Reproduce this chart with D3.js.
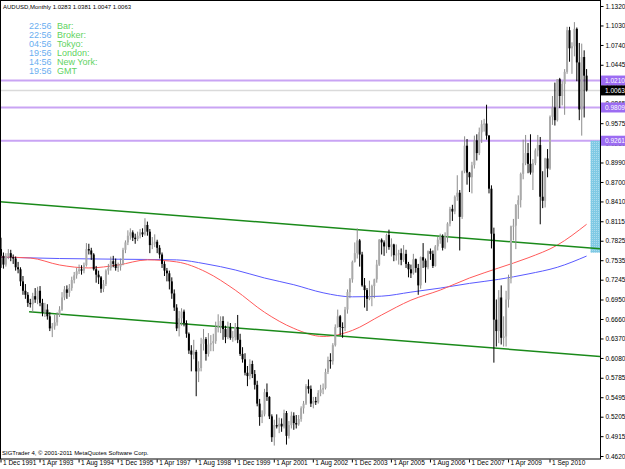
<!DOCTYPE html>
<html>
<head>
<script src="https://cdn.jsdelivr.net/npm/d3@7"></script>
<style>
    body { margin: 0; background: #fff; }
    svg text { font-family: "Liberation Sans", Arial, sans-serif; }
</style>
</head>
<body>
<svg width="625" height="469"></svg>
<script>
// monthly AUDUSD bars [open, high, low, close], one array per year
var y1991 = [[0.7700,0.7870,0.7420,0.7600]];
var y1992 = [[0.7600,0.7650,0.7410,0.7470],[0.7470,0.7640,0.7440,0.7600],[0.7600,0.7700,0.7550,0.7640],[0.7640,0.7690,0.7520,0.7580],
             [0.7580,0.7620,0.7480,0.7560],[0.7560,0.7590,0.7380,0.7430],[0.7430,0.7510,0.7340,0.7400],[0.7400,0.7430,0.7150,0.7220],
             [0.7220,0.7300,0.7020,0.7080],[0.7080,0.7180,0.6960,0.7020],[0.7020,0.7060,0.6840,0.6900],[0.6900,0.6960,0.6830,0.6880]];
var y1993 = [[0.6880,0.7050,0.6760,0.7000],[0.7000,0.7120,0.6900,0.6950],[0.6950,0.7140,0.6880,0.7080],[0.7080,0.7150,0.6850,0.6900],
             [0.6900,0.6960,0.6700,0.6760],[0.6760,0.6900,0.6690,0.6800],[0.6800,0.6880,0.6650,0.6700],[0.6700,0.6760,0.6480,0.6520],
             [0.6520,0.6600,0.6390,0.6550],[0.6550,0.6720,0.6500,0.6610],[0.6610,0.6760,0.6560,0.6720],[0.6720,0.6850,0.6690,0.6800]];
var y1994 = [[0.6800,0.7060,0.6780,0.6980],[0.6980,0.7150,0.6940,0.7100],[0.7100,0.7160,0.6960,0.7050],[0.7050,0.7180,0.6990,0.7120],
             [0.7120,0.7290,0.7080,0.7240],[0.7240,0.7360,0.7190,0.7310],[0.7310,0.7420,0.7260,0.7370],[0.7370,0.7470,0.7330,0.7400],
             [0.7400,0.7460,0.7320,0.7380],[0.7380,0.7500,0.7340,0.7460],[0.7460,0.7790,0.7440,0.7700],[0.7700,0.7780,0.7620,0.7680]];
var y1995 = [[0.7680,0.7720,0.7540,0.7620],[0.7620,0.7640,0.7380,0.7400],[0.7400,0.7450,0.7200,0.7320],[0.7320,0.7380,0.7180,0.7280],
             [0.7280,0.7300,0.7050,0.7110],[0.7110,0.7240,0.7060,0.7180],[0.7180,0.7400,0.7150,0.7380],[0.7380,0.7480,0.7320,0.7420],
             [0.7420,0.7590,0.7380,0.7520],[0.7520,0.7600,0.7430,0.7480],[0.7480,0.7560,0.7380,0.7420],[0.7420,0.7500,0.7360,0.7440]];
var y1996 = [[0.7440,0.7560,0.7380,0.7480],[0.7480,0.7720,0.7460,0.7690],[0.7690,0.7830,0.7640,0.7800],[0.7800,0.7980,0.7760,0.7900],
             [0.7900,0.8010,0.7840,0.7950],[0.7950,0.7980,0.7820,0.7870],[0.7870,0.7930,0.7780,0.7850],[0.7850,0.7960,0.7820,0.7900],
             [0.7900,0.8000,0.7860,0.7950],[0.7950,0.8010,0.7880,0.7920],[0.7920,0.8160,0.7900,0.8060],[0.8060,0.8110,0.7900,0.7960]];
var y1997 = [[0.7960,0.8000,0.7640,0.7760],[0.7760,0.7880,0.7700,0.7780],[0.7780,0.7920,0.7730,0.7810],[0.7810,0.7840,0.7640,0.7720],
             [0.7720,0.7760,0.7560,0.7620],[0.7620,0.7650,0.7420,0.7480],[0.7480,0.7520,0.7300,0.7380],[0.7380,0.7420,0.7220,0.7340],
             [0.7340,0.7380,0.7100,0.7220],[0.7220,0.7280,0.6960,0.7040],[0.7040,0.7100,0.6780,0.6830],[0.6830,0.6880,0.6480,0.6520]];
var y1998 = [[0.6520,0.6780,0.6400,0.6670],[0.6670,0.6820,0.6560,0.6770],[0.6770,0.6800,0.6550,0.6600],[0.6600,0.6640,0.6380,0.6440],
             [0.6440,0.6460,0.6140,0.6190],[0.6190,0.6270,0.5880,0.6130],[0.6130,0.6350,0.6060,0.6170],[0.6170,0.6200,0.5510,0.5880],
             [0.5880,0.6030,0.5720,0.5930],[0.5930,0.6380,0.5880,0.6290],[0.6290,0.6510,0.6190,0.6360],[0.6360,0.6390,0.6040,0.6140]];
var y1999 = [[0.6140,0.6450,0.6100,0.6280],[0.6280,0.6420,0.6180,0.6300],[0.6300,0.6440,0.6180,0.6330],[0.6330,0.6620,0.6290,0.6530],
             [0.6530,0.6730,0.6460,0.6550],[0.6550,0.6700,0.6450,0.6630],[0.6630,0.6700,0.6350,0.6510],[0.6510,0.6560,0.6300,0.6390],
             [0.6390,0.6620,0.6360,0.6530],[0.6530,0.6600,0.6350,0.6380],[0.6380,0.6480,0.6320,0.6390],[0.6390,0.6600,0.6340,0.6540]];
var y2000 = [[0.6540,0.6720,0.6300,0.6350],[0.6350,0.6440,0.6110,0.6140],[0.6140,0.6240,0.6010,0.6060],[0.6060,0.6150,0.5820,0.5860],
             [0.5860,0.5960,0.5660,0.5810],[0.5810,0.6060,0.5760,0.5990],[0.5990,0.6040,0.5780,0.5840],[0.5840,0.5900,0.5610,0.5680],
             [0.5680,0.5740,0.5360,0.5400],[0.5400,0.5470,0.5070,0.5200],[0.5200,0.5300,0.5110,0.5240],[0.5240,0.5620,0.5210,0.5570]];
var y2001 = [[0.5570,0.5700,0.5440,0.5500],[0.5500,0.5510,0.5170,0.5210],[0.5210,0.5240,0.4830,0.4900],[0.4900,0.5160,0.4775,0.5080],
             [0.5080,0.5240,0.5030,0.5060],[0.5060,0.5190,0.4960,0.5100],[0.5100,0.5180,0.4980,0.5060],[0.5060,0.5310,0.5030,0.5260],
             [0.5260,0.5290,0.4790,0.4920],[0.4920,0.5140,0.4880,0.5080],[0.5080,0.5280,0.5030,0.5220],[0.5220,0.5270,0.5010,0.5110]];
var y2002 = [[0.5110,0.5230,0.5030,0.5090],[0.5090,0.5230,0.5070,0.5170],[0.5170,0.5360,0.5130,0.5330],[0.5330,0.5440,0.5250,0.5400],
             [0.5400,0.5690,0.5380,0.5660],[0.5660,0.5760,0.5550,0.5620],[0.5620,0.5670,0.5350,0.5400],[0.5400,0.5500,0.5330,0.5440],
             [0.5440,0.5500,0.5380,0.5420],[0.5420,0.5600,0.5400,0.5560],[0.5560,0.5680,0.5510,0.5610],[0.5610,0.5700,0.5540,0.5630]];
var y2003 = [[0.5630,0.5920,0.5610,0.5870],[0.5870,0.6100,0.5840,0.6050],[0.6050,0.6150,0.5920,0.6030],[0.6030,0.6300,0.5980,0.6270],
             [0.6270,0.6580,0.6250,0.6540],[0.6540,0.6800,0.6530,0.6700],[0.6700,0.6720,0.6420,0.6540],[0.6540,0.6610,0.6380,0.6530],
             [0.6530,0.6840,0.6480,0.6800],[0.6800,0.7100,0.6740,0.7060],[0.7060,0.7270,0.6970,0.7250],[0.7250,0.7530,0.7200,0.7510]];
var y2004 = [[0.7510,0.7800,0.7500,0.7640],[0.7640,0.8010,0.7560,0.7830],[0.7830,0.7850,0.7440,0.7620],[0.7620,0.7660,0.7140,0.7160],
             [0.7160,0.7270,0.6830,0.7090],[0.7090,0.7120,0.6780,0.6960],[0.6960,0.7230,0.6940,0.7000],[0.7000,0.7170,0.6850,0.7150],
             [0.7150,0.7260,0.6970,0.7250],[0.7250,0.7540,0.7200,0.7470],[0.7470,0.7850,0.7450,0.7840],[0.7840,0.7860,0.7620,0.7800]];
var y2005 = [[0.7800,0.7830,0.7600,0.7740],[0.7740,0.7930,0.7640,0.7910],[0.7910,0.7990,0.7690,0.7730],[0.7730,0.7860,0.7590,0.7770],
             [0.7770,0.7780,0.7520,0.7610],[0.7610,0.7770,0.7530,0.7620],[0.7620,0.7690,0.7470,0.7640],[0.7640,0.7710,0.7460,0.7540],
             [0.7540,0.7760,0.7510,0.7630],[0.7630,0.7690,0.7420,0.7480],[0.7480,0.7510,0.7280,0.7400],[0.7400,0.7470,0.7270,0.7340]];
var y2006 = [[0.7340,0.7630,0.7320,0.7550],[0.7550,0.7560,0.7350,0.7420],[0.7420,0.7480,0.7020,0.7160],[0.7160,0.7590,0.7110,0.7580],
             [0.7580,0.7790,0.7420,0.7530],[0.7530,0.7560,0.7200,0.7430],[0.7430,0.7680,0.7400,0.7670],[0.7670,0.7710,0.7540,0.7630],
             [0.7630,0.7680,0.7420,0.7450],[0.7450,0.7760,0.7440,0.7740],[0.7740,0.7880,0.7680,0.7840],[0.7840,0.7930,0.7780,0.7890]];
var y2007 = [[0.7890,0.7920,0.7680,0.7720],[0.7720,0.7950,0.7700,0.7890],[0.7890,0.8100,0.7800,0.8080],[0.8080,0.8330,0.8040,0.8300],
             [0.8300,0.8360,0.8120,0.8260],[0.8260,0.8500,0.8220,0.8480],[0.8480,0.8800,0.8420,0.8540],[0.8540,0.8580,0.7680,0.8180],
             [0.8180,0.8870,0.8150,0.8860],[0.8860,0.9380,0.8830,0.9240],[0.9240,0.9340,0.8660,0.8840],[0.8840,0.8850,0.8550,0.8770]];
var y2008 = [[0.8770,0.9000,0.8530,0.8950],[0.8950,0.9390,0.8900,0.9320],[0.9320,0.9410,0.9020,0.9130],[0.9130,0.9510,0.9100,0.9440],
             [0.9440,0.9620,0.9280,0.9560],[0.9560,0.9640,0.9450,0.9570],[0.9570,0.9850,0.9330,0.9390],[0.9390,0.9400,0.8530,0.8600],
             [0.8600,0.8650,0.7710,0.7930],[0.7930,0.8020,0.6010,0.6650],[0.6650,0.6950,0.6250,0.6480],[0.6480,0.7090,0.6300,0.6980]];
var y2009 = [[0.6980,0.7160,0.6280,0.6380],[0.6380,0.6700,0.6250,0.6400],[0.6400,0.7080,0.6250,0.6950],[0.6950,0.7320,0.6830,0.7260],
             [0.7260,0.8050,0.7190,0.8040],[0.8040,0.8150,0.7830,0.8050],[0.8050,0.8370,0.7700,0.8360],[0.8360,0.8500,0.8150,0.8430],
             [0.8430,0.8840,0.8320,0.8820],[0.8820,0.9330,0.8740,0.8980],[0.8980,0.9400,0.8950,0.9130],[0.9130,0.9280,0.8830,0.8970]];
var y2010 = [[0.8970,0.9410,0.8810,0.8840],[0.8840,0.9040,0.8580,0.8980],[0.8980,0.9200,0.8950,0.9170],[0.9170,0.9400,0.9080,0.9250],
             [0.9250,0.9370,0.8070,0.8480],[0.8480,0.8860,0.8310,0.8420],[0.8420,0.9060,0.8320,0.9050],[0.9050,0.9190,0.8770,0.8900],
             [0.8900,0.9690,0.8880,0.9670],[0.9670,0.9980,0.9550,0.9810],[0.9810,1.0180,0.9540,0.9620],[0.9620,1.0230,0.9600,1.0230]];
var y2011 = [[1.0230,1.0250,0.9800,0.9980],[0.9980,1.0200,0.9840,1.0160],[1.0160,1.0380,0.9700,1.0340],[1.0340,1.1010,1.0310,1.0960],
             [1.0960,1.1010,1.0490,1.0690],[1.0690,1.0780,1.0310,1.0720],[1.0720,1.1080,1.0570,1.0980],[1.0980,1.1000,1.0200,1.0480],
             [1.0480,1.0770,0.9620,0.9780],[0.9780,1.0760,0.9390,1.0560],[1.0560,1.0660,0.9660,1.0283],[1.0283,1.0381,1.0047,1.0063]];

var years = [1991,1992,1993,1994,1995,1996,1997,1998,1999,2000,2001,2002,2003,2004,2005,2006,2007,2008,2009,2010,2011];
var yearBars = [y1991,y1992,y1993,y1994,y1995,y1996,y1997,y1998,y1999,y2000,y2001,y2002,y2003,y2004,y2005,y2006,y2007,y2008,y2009,y2010,y2011];
var monthNames = ["Jan","Feb","Mar","Apr","May","Jun","Jul","Aug","Sep","Oct","Nov","Dec"];

// moving averages: [month index from Dec 1991, price]
var maRed  = [[0,0.7583],[12,0.7568],[24,0.7464],[36,0.7420],[48,0.7464],[60,0.7540],[72,0.7510],[84,0.7360],[96,0.7090],
              [108,0.6760],[120,0.6520],[132,0.6400],[144,0.6490],[156,0.6720],[168,0.6940],[180,0.7090],[192,0.7270],
              [204,0.7420],[216,0.7570],[228,0.7760],[240,0.8070]];
var maBlue = [[0,0.7580],[24,0.7560],[48,0.7550],[72,0.7540],[84,0.7480],[96,0.7390],[108,0.7270],[120,0.7170],[132,0.7050],
              [144,0.6990],[156,0.7000],[168,0.7060],[180,0.7120],[192,0.7190],[204,0.7250],[216,0.7330],[228,0.7430],[240,0.7597]];

// channel trend lines
var channelUpper = [[-0.4,0.8406],[245.5,0.7706]];
var channelLower = [[11.5,0.6769],[245.5,0.6103]];

// horizontal levels and current price
var levels = [1.0210, 0.9809, 0.9314];
var levelLabels = ["1.0210", "0.9809", "0.9261"];
var currentPrice = 1.0063;
var zoneBox = {from: 241.6, to: 245.5, top: 0.9314, bottom: 0.7647};

var priceTicks = [1.1320,1.1030,1.0740,1.0445,1.0155,0.9865,0.9575,0.9280,0.8990,0.8700,0.8410,0.8115,
                  0.7825,0.7535,0.7245,0.6950,0.6660,0.6370,0.6080,0.5785,0.5495,0.5205,0.4915,0.4620];
var timeTicks = ["1991-12","1993-04","1994-08","1995-12","1997-04","1998-08","1999-12","2001-04",
                 "2002-08","2003-12","2005-04","2006-08","2007-12","2009-04","2010-09"];

var clockTimes = ["22:56","22:56","04:56","19:56","14:56","19:56"];
var clockNames = ["Bar:","Broker:","Tokyo:","London:","New York:","GMT"];

var svg = d3.select("svg"),
    plotW = 600,
    plotH = 459,
    step = 2.44;

var bars = [];
yearBars.forEach(function (arr, yi) {
    var m0 = years[yi] === 1991 ? 11 : 0;
    arr.forEach(function (b, i) {
        var m = m0 + i;
        bars.push({key: years[yi] + "-" + String(m + 1).padStart(2, "0"),
                   label: "1 " + monthNames[m] + " " + years[yi],
                   o: b[0], h: b[1], l: b[2], c: b[3]});
    });
});

var x = d3.scaleBand()
    .domain(bars.map(function (d) { return d.key; }))
    .range([1 - step / 2, 1 - step / 2 + bars.length * step]);
var xi = d3.scaleLinear().domain([0, bars.length - 1])
    .range([x(bars[0].key) + step / 2, x(bars[bars.length - 1].key) + step / 2]);
var y = d3.scaleLinear().domain([0.4620, 1.1320]).range([456, 6]);

var defs = svg.append("defs");
defs.append("clipPath").attr("id", "clip")
    .append("rect").attr("width", plotW).attr("height", plotH);
var plot = svg.append("g").attr("clip-path", "url(#clip)");

// horizontal lines
plot.selectAll(".lvl").data(levels).enter().append("line")
    .attr("x1", 0).attr("x2", plotW)
    .attr("y1", function (d) { return y(d); }).attr("y2", function (d) { return y(d); })
    .attr("stroke", "#c9a4f4").attr("stroke-width", 2);
plot.append("line")
    .attr("x1", 0).attr("x2", plotW)
    .attr("y1", y(currentPrice)).attr("y2", y(currentPrice))
    .attr("stroke", "#dadada").attr("stroke-width", 1.5);

// zone rectangle
var pat = defs.append("pattern").attr("id", "dots")
    .attr("width", 2).attr("height", 2).attr("patternUnits", "userSpaceOnUse");
pat.append("rect").attr("width", 2).attr("height", 2).attr("fill", "#7fc9e4");
pat.append("rect").attr("width", 1).attr("height", 1).attr("fill", "#addcee");
plot.append("rect")
    .attr("x", xi(zoneBox.from)).attr("width", xi(zoneBox.to) - xi(zoneBox.from))
    .attr("y", y(zoneBox.top)).attr("height", y(zoneBox.bottom) - y(zoneBox.top))
    .attr("fill", "url(#dots)");

// moving averages
var maLine = d3.line()
    .curve(d3.curveMonotoneX)
    .x(function (d) { return xi(d[0]); })
    .y(function (d) { return y(d[1]); });
plot.append("path").attr("d", maLine(maBlue))
    .attr("fill", "none").attr("stroke", "#5a5aff").attr("stroke-width", 1);
plot.append("path").attr("d", maLine(maRed))
    .attr("fill", "none").attr("stroke", "#ff5a5a").attr("stroke-width", 1);

// channel
[channelUpper, channelLower].forEach(function (c) {
    plot.append("path").attr("d", d3.line()
            .x(function (d) { return xi(d[0]); })
            .y(function (d) { return y(d[1]); })(c))
        .attr("stroke", "#1a8a1a").attr("stroke-width", 1.5).attr("fill", "none");
});

// candles
var candle = plot.selectAll(".bar").data(bars).enter().append("g");
candle.append("line")
    .attr("x1", function (d) { return x(d.key) + step / 2; })
    .attr("x2", function (d) { return x(d.key) + step / 2; })
    .attr("y1", function (d) { return y(d.h); })
    .attr("y2", function (d) { return y(d.l); })
    .attr("stroke", function (d) { return d.c >= d.o ? "#8c8c8c" : "#000"; })
    .attr("stroke-width", 1);
candle.append("rect")
    .attr("x", function (d) { return x(d.key) + step / 2 - 1; })
    .attr("width", 2)
    .attr("y", function (d) { return y(Math.max(d.o, d.c)); })
    .attr("height", function (d) { return Math.max(1, Math.abs(y(d.o) - y(d.c))); })
    .attr("fill", function (d) { return d.c >= d.o ? "#aaaaaa" : "#000"; });

// frame
svg.append("rect").attr("x", 0.5).attr("y", 0.5).attr("width", plotW).attr("height", plotH - 0.5)
    .attr("fill", "none").attr("stroke", "#000").attr("stroke-width", 1);

// price axis
var yAxis = svg.append("g").attr("transform", "translate(" + (plotW + 0.5) + ",0)")
    .call(d3.axisRight(y).tickValues(priceTicks).tickSize(3).tickSizeOuter(0)
        .tickFormat(d3.format(".4f")));
yAxis.select(".domain").remove();
yAxis.selectAll("text").attr("x", 5).style("font-size", "6.5px")
    .style("font-family", "Liberation Sans, Arial, sans-serif").attr("fill", "#000");

// level boxes on price axis
var boxes = svg.selectAll(".lvlbox").data(levels).enter().append("g")
    .attr("transform", function (d) { return "translate(" + (plotW + 1) + "," + y(d) + ")"; });
boxes.append("rect").attr("x", 0).attr("y", -5).attr("width", 24).attr("height", 10).attr("fill", "#9c6cf2");
boxes.append("text").attr("x", 4).attr("dy", "0.33em").attr("fill", "#fff")
    .style("font-size", "6.5px").text(function (d, i) { return levelLabels[i]; });
var cur = svg.append("g").attr("transform", "translate(" + (plotW + 1) + "," + y(currentPrice) + ")");
cur.append("rect").attr("x", 0).attr("y", -5).attr("width", 24).attr("height", 10).attr("fill", "#000");
cur.append("text").attr("x", 4).attr("dy", "0.33em").attr("fill", "#fff")
    .style("font-size", "6.5px").text(d3.format(".4f")(currentPrice));

// time axis
var lookup = {};
bars.forEach(function (d) { lookup[d.key] = d.label; });
var xAxis = svg.append("g").attr("transform", "translate(0," + (plotH + 0.5) + ")")
    .call(d3.axisBottom(x).tickValues(timeTicks).tickSize(3).tickSizeOuter(0)
        .tickFormat(function (k) { return lookup[k]; }));
xAxis.select(".domain").remove();
xAxis.selectAll("text").attr("text-anchor", "start").attr("x", 2).attr("y", 1)
    .style("font-size", "6.5px").style("font-family", "Liberation Sans, Arial, sans-serif").attr("fill", "#000");

// header and clock
svg.append("text").attr("x", 3).attr("y", 9).style("font-size", "6px").attr("fill", "#000")
    .text("AUDUSD,Monthly  1.0283 1.0381 1.0047 1.0063");
svg.selectAll(".clk").data(clockTimes).enter().append("text")
    .attr("x", 29).attr("y", function (d, i) { return 28.5 + i * 9.1; })
    .style("font-size", "9px").attr("fill", "#6aaef0").text(function (d) { return d; });
svg.selectAll(".clkn").data(clockNames).enter().append("text")
    .attr("x", 57).attr("y", function (d, i) { return 28.5 + i * 9.1; })
    .style("font-size", "9px").attr("fill", "#5fd35f").text(function (d) { return d; });
svg.append("text").attr("x", 2).attr("y", 455).style("font-size", "6px").attr("fill", "#000")
    .text("SIGTrader 4, \u00a9 2001-2011 MetaQuotes Software Corp.");
</script>
</body>
</html>
